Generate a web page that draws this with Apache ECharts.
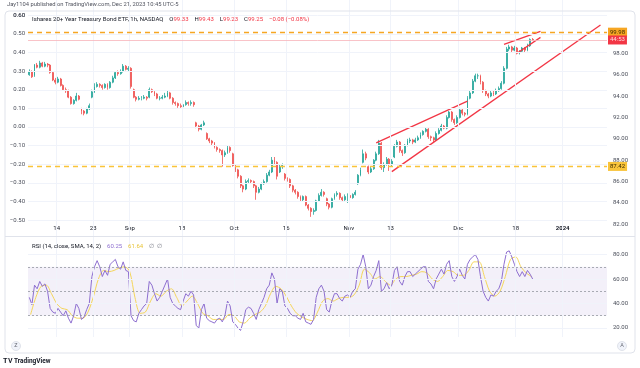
<!DOCTYPE html>
<html><head><meta charset="utf-8">
<script src="https://cdn.jsdelivr.net/npm/echarts@6/dist/echarts.min.js"></script>
<style>html,body{margin:0;padding:0;background:#fff}#c{width:640px;height:368px}</style>
</head><body><div id="c"></div>
<script>
// ---- trading calendar (daily sessions) ----
const augDays=[7,8,9,10,11,14,15,16,17,18,21,22,23,24,25,28,29,30,31];
const sepDays=[1,5,6,7,8,11,12,13,14,15,18,19,20,21,22,25,26,27,28,29];
const octDays=[2,3,4,5,6,9,10,11,12,13,16,17,18,19,20,23,24,25,26,27,30,31];
const novDays=[1,2,3,6,7,8,9,10,13,14,15,16,17,20,21,22,24,27,28,29,30];
const decDays=[1,4,5,6,7,8,11,12,13,14,15,18,19,20,21,22,26,27,28,29];
const janDays=[2,3,4,5,8,9,10,11,12];
// ---- x tick labels ----
const tickDates=['2023-08-14','2023-08-23','2023-09-01','2023-09-18','2023-10-02','2023-10-16','2023-11-01','2023-11-13','2023-12-01','2023-12-18','2024-01-02'];
const tickLabels=['14','23','Sep','18','Oct','16','Nov','13','Dec','18','2024'];
// ---- price candles, two sessions per day: [open, close, low, high] ----
const ohlc=[
[96.0,96.3,95.9,96.5],[96.3,95.8,95.7,96.4],[95.9,96.9,95.8,97.0],[96.9,96.7,96.6,97.1],[96.7,97.1,96.6,97.3],[97.1,96.8,96.7,97.2],[96.8,97.0,96.7,97.2],[97.0,96.9,96.7,97.1],[96.9,96.2,96.1,97.0],[96.2,95.5,95.4,96.3],
[95.5,95.3,95.1,95.7],[95.3,95.6,95.2,95.8],[95.6,95.0,94.9,95.7],[95.0,94.6,94.5,95.1],[94.6,94.5,94.3,94.8],[94.5,93.9,93.8,94.6],[93.9,93.3,93.2,94.0],[93.3,93.6,93.2,93.7],[93.6,94.0,93.5,94.3],[94.0,93.7,93.6,94.1],
[92.8,92.6,92.3,92.9],[92.6,92.4,92.2,92.7],[92.4,92.8,92.3,92.9],[92.8,93.1,92.7,93.3],[93.9,94.4,93.8,94.6],[94.4,94.9,94.3,95.2],[94.9,95.1,94.8,95.3],[95.1,95.0,94.8,95.2],[95.0,94.8,94.6,95.1],[94.8,95.1,94.7,95.2],
[95.1,94.8,94.6,95.2],[94.8,95.3,94.7,95.4],[95.3,95.7,95.2,95.9],[95.7,96.2,95.6,96.3],[96.2,96.1,95.9,96.4],[96.1,96.3,96.0,96.5],[96.3,96.8,96.2,97.0],[96.8,96.5,96.4,96.9],[96.5,96.6,96.3,96.8],[96.6,94.9,94.7,96.7],
[94.6,93.9,93.8,94.7],[93.9,93.7,93.5,94.0],[93.7,93.8,93.6,94.0],[93.8,93.8,93.6,94.0],[93.8,93.9,93.7,94.1],[93.9,93.8,93.6,94.0],[93.9,94.6,93.8,94.8],[94.6,94.4,94.3,94.7],[94.4,94.2,94.0,94.5],[94.2,93.8,93.7,94.3],
[93.8,93.8,93.6,94.0],[93.8,93.9,93.7,94.1],[93.9,94.0,93.8,94.3],[94.0,94.3,93.9,94.5],[94.3,93.8,93.7,94.4],[93.8,93.4,93.2,93.9],[93.4,93.3,93.1,93.5],[93.3,93.1,92.9,93.4],[93.1,93.0,92.9,93.3],[93.0,93.2,92.9,93.3],
[93.2,93.4,93.1,93.6],[93.4,93.3,93.1,93.5],[93.3,93.4,93.1,93.6],[93.4,93.2,93.0,93.5],[91.5,91.2,91.0,91.6],[91.2,90.9,90.7,91.3],[90.9,91.3,90.8,91.4],[91.3,91.5,91.2,91.7],[90.5,90.0,89.9,90.6],[90.0,89.8,89.6,90.1],
[89.8,89.6,89.4,89.9],[89.6,89.2,89.1,89.7],[89.2,89.0,88.8,89.3],[89.0,88.9,88.7,89.1],[88.9,88.5,87.4,89.0],[88.5,88.7,88.3,88.9],[88.7,89.2,88.6,89.4],[89.2,88.9,88.7,89.3],[88.6,87.5,87.4,88.7],[87.5,87.1,86.9,87.6],
[87.1,86.5,86.3,87.2],[86.5,85.6,85.4,86.6],[85.6,85.3,85.0,85.7],[85.3,86.0,85.2,86.2],[86.0,86.1,85.8,86.3],[86.1,86.0,85.8,86.2],[86.0,85.6,85.4,86.1],[85.6,85.0,84.3,85.7],[85.0,85.3,84.9,85.5],[85.3,85.8,85.2,85.9],
[85.8,86.0,85.7,86.2],[86.0,86.6,85.9,86.8],[86.6,86.9,86.5,87.1],[86.9,88.0,86.8,88.3],[88.0,87.8,87.6,88.3],[87.8,86.5,86.2,87.9],[86.9,87.4,86.8,87.6],[87.4,87.5,87.2,87.7],[86.7,86.3,86.1,86.8],[86.3,86.2,86.0,86.4],
[86.2,85.6,85.4,86.3],[85.6,85.2,85.0,85.7],[85.2,85.0,84.8,85.3],[85.0,84.6,84.4,85.1],[84.6,84.3,84.1,84.7],[84.3,84.6,84.1,84.7],[84.6,83.8,83.7,84.7],[83.8,83.5,83.3,83.9],[83.5,83.2,82.7,83.6],[83.2,83.3,82.9,83.5],
[83.3,84.2,83.2,84.3],[84.2,84.7,84.1,84.9],[84.7,85.0,84.6,85.3],[85.0,84.8,84.6,85.1],[84.4,83.9,83.7,84.5],[83.9,83.6,83.4,84.0],[83.6,84.4,83.5,84.5],[84.4,84.8,84.3,84.9],[84.8,84.9,84.6,85.1],[84.9,84.5,84.3,85.0],
[84.5,84.3,84.1,84.6],[84.3,84.6,84.2,84.8],[84.6,84.7,84.0,84.9],[84.7,84.5,84.3,84.8],[84.5,84.8,84.4,84.9],[84.8,85.0,84.7,85.2],[85.8,86.6,85.7,86.7],[86.6,87.1,86.5,87.3],[87.8,88.6,87.7,89.0],[88.6,88.2,88.0,88.8],
[87.4,86.9,86.7,87.5],[86.9,87.2,86.8,87.4],[87.2,88.0,87.1,88.1],[88.0,88.6,87.9,88.8],[88.6,89.6,88.5,89.9],[89.6,87.3,87.1,89.7],[87.3,87.6,86.9,87.8],[87.6,88.1,87.5,88.3],[88.1,87.6,87.0,88.2],[87.6,87.9,87.4,88.1],
[88.3,89.3,88.2,89.5],[89.3,89.7,89.2,89.9],[89.7,88.9,88.7,89.8],[88.9,88.7,88.4,89.0],[88.7,89.4,88.6,89.5],[89.4,89.8,89.3,90.0],[89.8,89.9,89.6,90.1],[89.9,89.7,89.5,90.0],[89.7,89.9,89.6,90.1],[89.9,90.1,89.8,90.3],
[90.1,90.4,90.0,90.6],[90.4,90.7,90.3,90.8],[90.7,90.9,90.6,91.1],[90.9,90.2,90.0,91.0],[90.2,90.1,89.8,90.3],[90.1,89.9,89.7,90.2],[89.9,90.5,89.8,90.7],[90.5,90.8,90.4,91.0],[90.8,91.2,90.7,91.4],[91.2,91.0,90.9,91.3],
[91.0,92.0,90.9,92.2],[92.0,92.5,91.9,92.6],[92.5,91.8,91.6,92.6],[91.8,91.5,91.3,91.9],[91.5,92.0,91.4,92.2],[92.0,92.7,91.9,92.9],[92.7,92.4,92.2,92.8],[92.4,92.3,92.1,92.5],[92.3,93.8,92.2,94.0],[93.8,94.3,93.7,94.5],
[94.3,95.4,94.2,95.6],[95.4,95.9,95.3,96.1],[95.9,95.9,95.6,96.1],[95.9,95.3,95.1,96.0],[95.3,94.5,94.3,95.4],[94.5,94.2,94.0,94.6],[94.2,94.0,93.8,94.3],[94.0,94.3,93.9,94.5],[94.3,94.2,94.0,94.5],[94.2,94.5,94.1,94.7],
[94.5,94.7,94.4,94.9],[94.7,95.2,94.6,95.4],[95.2,96.6,95.1,96.8],[96.6,98.4,96.5,98.6],[98.4,98.6,98.2,98.8],[98.6,98.3,98.1,98.7],[98.3,98.5,98.2,98.7],[98.5,98.1,97.9,98.6],[98.1,98.2,97.9,98.3],[98.2,98.5,98.1,98.6],
[98.5,98.3,98.1,98.6],[98.3,98.7,98.2,98.9],[98.7,99.3,98.6,99.4],[99.3,99.25,99.2,99.43]
];
// ---- RSI(14), two sessions per day ----
const rsi=[
45,39, 55,52, 58,54, 56,50, 36,33, 32,36, 33,30, 34,28, 24,30, 40,36,
27,29, 35,40, 62,70, 75,70, 62,67, 63,72, 74,76, 70,68, 74,67, 66,30,
26,25, 32,35, 38,40, 58,55, 48,42, 45,50, 55,60, 45,40, 38,36, 35,42,
48,46, 50,47, 22,20, 35,40, 28,26, 25,24, 27,28, 25,30, 42,38, 25,23,
20,18, 25,35, 37,36, 32,27, 35,40, 45,52, 55,65, 60,40, 52,50, 38,36,
32,30, 30,28, 27,32, 25,24, 23,27, 45,52, 55,50, 35,33, 42,48, 48,44,
42,46, 47,45, 50,52, 68,72, 80,70, 52,55, 62,67, 75,50, 52,57, 52,55,
67,70, 58,55, 62,66, 66,62, 64,66, 68,70, 70,58, 56,52, 60,64, 68,64,
72,75, 62,58, 62,68, 63,60, 72,76, 78,80, 76,62, 50,45, 42,47, 46,50,
52,58, 72,82, 83,78, 72,66, 62,66, 62,67, 64,60
];
// ---- RSI SMA(14), one per day ----
const rsiSma=[
31,45,54,55,48,40,36,35,30,28,
28,33,45,60,67,66,67,69,70,66,
45,32,33,42,48,46,50,52,45,38,
42,46,40,32,30,27,27,27,31,30,
25,24,28,31,33,38,48,54,52,46,
38,32,29,27,26,33,42,44,42,44,
45,45,47,55,68,65,60,62,58,55,
60,62,62,63,64,66,65,60,58,62,
67,66,63,63,67,74,74,62,50,46,
50,62,76,78,70,65,62
];
// ---- drawings ----
const hLevels=[99.98, 87.42];
const lastPrice=99.25;
const trendLines=[
 [['2023-11-13 PM',86.93],['2024-01-11 PM',100.65]],
 [['2023-11-08 PM',89.63],['2023-12-05 AM',93.53]],
 [['2023-12-14 AM',98.84],['2023-12-26 AM',100.05]],
 [['2023-12-18 PM',98.00],['2023-12-26 AM',99.49]]
];
const priceTicks=[82,84,86,88,90,92,94,96,98];
const pctTicks=[0.6,0.5,0.4,0.3,0.2,0.1,0,-0.1,-0.2,-0.3,-0.4,-0.5];
const rsiTicks=[20,40,60,80];
const rsiLevels=[70,50,30];

// build categories
const pad=n=>String(n).padStart(2,'0');
const days=[];
[['2023-08',augDays],['2023-09',sepDays],['2023-10',octDays],['2023-11',novDays],['2023-12',decDays],['2024-01',janDays]]
 .forEach(([m,arr])=>arr.forEach(d=>days.push(m+'-'+pad(d))));
const halfDays=[];
days.forEach(d=>{halfDays.push(d+' AM');halfDays.push(d+' PM');});

const FONT='Roboto';
const UP='#26a69a', DN='#ef5350', LINE='#f23645';
const gridColor='#f0f3fa';
const AXC='#4a4e5a';
const fmtPct=v=>(v<0?'\u2212':'')+Math.abs(v).toFixed(2);

const chart=echarts.init(document.getElementById('c'),null,{renderer:'canvas'});
const G={left:28,right:33};
const pctLines=pctTicks.map(v=>({yAxis:v,label:{show:true,position:'start',distance:3,formatter:fmtPct(v),color:AXC,fontSize:6,fontFamily:FONT}}));
const option={
 animation:false,
 backgroundColor:'#fff',
 textStyle:{fontFamily:FONT},
 grid:[
  {left:G.left,right:G.right,top:0,height:236},
  {left:G.left,right:G.right,top:237,height:100}
 ],
 xAxis:[
  {type:'category',gridIndex:0,data:halfDays,show:false,boundaryGap:true},
  {type:'category',gridIndex:0,data:days,show:false,boundaryGap:true},
  {type:'category',gridIndex:1,data:halfDays,show:false,boundaryGap:true},
  {type:'category',gridIndex:1,data:days,boundaryGap:true,
   axisLine:{show:false},axisTick:{show:false},splitLine:{show:false},
   axisLabel:{interval:(i,v)=>tickDates.includes(v),margin:6,fontSize:6,color:'#131722',fontFamily:FONT,
     formatter:v=>{const k=tickDates.indexOf(v);if(k<0)return '';const t=tickLabels[k];return t==='2024'?'{b|2024}':t;},
     rich:{b:{fontWeight:'bold',fontSize:6,color:'#131722',fontFamily:FONT}}}}
 ],
 yAxis:[
  {type:'value',gridIndex:0,position:'right',min:80.91,max:102.99,scale:true,
   axisLine:{show:false},axisTick:{show:false},splitLine:{show:false},
   axisLabel:{customValues:priceTicks,fontSize:6,color:AXC,margin:6,formatter:v=>v.toFixed(2),fontFamily:FONT}},
  {type:'value',gridIndex:0,position:'left',min:-0.5854,max:0.682,
   axisLine:{show:false},axisTick:{show:false},splitLine:{show:false},axisLabel:{show:false}},
  {type:'value',gridIndex:1,position:'right',min:12.65,max:94.29,
   axisLine:{show:false},axisTick:{show:false},splitLine:{show:false},
   axisLabel:{customValues:rsiTicks,fontSize:6,color:AXC,margin:6,formatter:v=>v.toFixed(2),fontFamily:FONT}}
 ],
 series:[
  {type:'line',xAxisIndex:1,yAxisIndex:1,data:[],silent:true,z:0,
   markLine:{silent:true,symbol:['none','none'],animation:false,
    lineStyle:{color:gridColor,type:'solid',width:1},label:{show:false},
    data:[...pctLines,...tickDates.map(d=>({xAxis:d,label:{show:false}}))]}},
  {type:'line',xAxisIndex:3,yAxisIndex:2,data:[],silent:true,z:0,
   markLine:{silent:true,symbol:['none','none'],label:{show:false},animation:false,
    lineStyle:{color:gridColor,type:'solid',width:1},
    data:[...rsiTicks.map(v=>({yAxis:v})),...tickDates.map(d=>({xAxis:d}))]}},
  {type:'candlestick',name:'TLT',xAxisIndex:0,yAxisIndex:0,data:ohlc,barWidth:1.4,z:3,
   itemStyle:{color:UP,color0:DN,borderColor:UP,borderColor0:DN,borderWidth:0.8},
   markLine:{silent:true,symbol:['none','none'],animation:false,
    data:[
     {yAxis:hLevels[0],lineStyle:{color:'#f6a623',type:[5,4],width:1.3},
      label:{show:true,position:'end',distance:1,formatter:hLevels[0].toFixed(2),backgroundColor:'#f6a623',color:'#3a2a00',fontSize:6,padding:[2,2,1,2],fontFamily:FONT}},
     {yAxis:lastPrice,lineStyle:{color:'#f8b4ba',type:'solid',width:0.8},
      label:{show:true,position:'end',distance:1,formatter:'44:53',backgroundColor:'#f23645',color:'#ffd9dc',fontSize:6,padding:[3,2,0,2],fontFamily:FONT}},
     {yAxis:hLevels[1],lineStyle:{color:'#f9c43a',type:[5,4],width:1.3},
      label:{show:true,position:'end',distance:1,formatter:hLevels[1].toFixed(2),backgroundColor:'#f9c43a',color:'#3a2a00',fontSize:6,padding:[2,2,1,2],fontFamily:FONT}}
    ]}},
  ...trendLines.map(tl=>({type:'line',xAxisIndex:0,yAxisIndex:0,data:tl,symbol:'none',silent:true,z:4,
    lineStyle:{color:LINE,width:1.3}})),
  {type:'line',name:'RSI',xAxisIndex:2,yAxisIndex:2,data:rsi,symbol:'none',z:3,
   lineStyle:{color:'#8e6fd0',width:1},
   markArea:{silent:true,itemStyle:{color:'rgba(126,87,194,0.09)'},data:[[{yAxis:rsiLevels[2]},{yAxis:rsiLevels[0]}]]},
   markLine:{silent:true,symbol:['none','none'],label:{show:false},animation:false,
    lineStyle:{color:'#9598a1',type:[2,2],width:0.8},
    data:rsiLevels.map(v=>({yAxis:v}))}},
  {type:'line',name:'SMA',xAxisIndex:3,yAxisIndex:2,data:rsiSma,symbol:'none',z:2,smooth:0.3,
   lineStyle:{color:'#f5d65a',width:1}}
 ],
 graphic:[
  {type:'rect',z:-10,shape:{x:0,y:0,width:640,height:10},style:{fill:'#fff'},silent:true},
  {type:'rect',z:91,shape:{x:5,y:11,width:630,height:342,r:4},style:{fill:'none',stroke:'#e0e3eb',lineWidth:1},silent:true},
  {type:'line',z:91,shape:{x1:5,y1:236.5,x2:635,y2:236.5},style:{stroke:'#e0e3eb',lineWidth:1},silent:true},
  {type:'text',z:100,x:7,y:5,style:{text:'Jay1104 published on TradingView.com, Dec 21, 2023 10:45 UTC-5',fontSize:5.8,fill:'#50535e',fontFamily:FONT,verticalAlign:'middle'}},
  {type:'text',z:100,x:32,y:19,style:{fontFamily:FONT,verticalAlign:'middle',
    text:'{t|Ishares 20+ Year Treasury Bond ETF, 1h, NASDAQ}  {k|O}{v|99.33}  {k|H}{v|99.43}  {k|L}{v|99.23}  {k|C}{v|99.25}  {v|\u22120.08 (\u22120.08%)}',
    rich:{t:{fontSize:6,fill:'#131722',fontFamily:FONT},k:{fontSize:6,fill:'#131722',fontFamily:FONT},v:{fontSize:6,fill:'#f23645',fontFamily:FONT}}}},
  {type:'text',z:200,x:25,y:15.3,style:{text:'0.60',fontSize:6,fill:AXC,align:'right',verticalAlign:'middle',fontFamily:FONT}},
  {type:'text',z:100,x:32,y:246,style:{fontFamily:FONT,verticalAlign:'middle',
    text:'{t|RSI (14, close, SMA, 14, 2)}  {p|60.25}  {y|61.64}  {g|\u2205  \u2205}',
    rich:{t:{fontSize:6,fill:'#131722',fontFamily:FONT},p:{fontSize:6,fill:'#8e6fd0',fontFamily:FONT},y:{fontSize:6,fill:'#e8c53a',fontFamily:FONT},g:{fontSize:6,fill:'#787b86',fontFamily:FONT}}}},
  {type:'circle',z:100,shape:{cx:16,cy:346,r:4.5},style:{fill:'#f0f3fa',stroke:'#e0e3eb'},silent:true},
  {type:'text',z:101,x:16,y:346,style:{text:'Z',fontSize:5.5,fill:'#6a6d78',align:'center',verticalAlign:'middle',fontFamily:FONT}},
  {type:'circle',z:100,shape:{cx:622,cy:346,r:4.5},style:{fill:'#f0f3fa',stroke:'#e0e3eb'},silent:true},
  {type:'text',z:101,x:622,y:346,style:{text:'A',fontSize:5.5,fill:'#6a6d78',align:'center',verticalAlign:'middle',fontFamily:FONT}},
  {type:'text',z:100,x:3,y:361,style:{text:'\u{1D413}\u{1D415}',fontSize:7,fill:'#131722',verticalAlign:'middle',fontFamily:'DejaVu Sans'}},
  {type:'text',z:100,x:14,y:361,style:{text:'TradingView',fontSize:6.5,fill:'#131722',verticalAlign:'middle',fontFamily:FONT,fontWeight:'bold'}}
 ]
};
chart.setOption(option);
</script></body></html>
